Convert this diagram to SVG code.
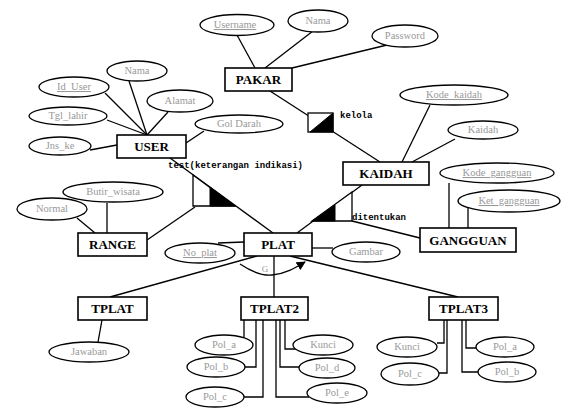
<svg xmlns="http://www.w3.org/2000/svg" width="561" height="409" viewBox="0 0 561 409">
  <style>
    .ent rect { fill: #fff; stroke: #000; stroke-width: 1.6; }
    .ent text { font-family: "Liberation Serif", serif; font-weight: bold; font-size: 13px; fill: #000; text-anchor: middle; }
    .att ellipse { fill: #fff; stroke: #000; stroke-width: 1.3; }
    .att text { font-family: "Liberation Serif", serif; font-size: 10.5px; fill: #999; text-anchor: middle; }
    .key text { text-decoration: underline; }
    .rel text { font-family: "Liberation Mono", monospace; font-weight: bold; font-size: 9px; fill: #000; }
    .conn line, .conn polyline, .conn path { fill: none; stroke: #000; stroke-width: 1.3; }
    .wht { fill: #fff; stroke: #000; stroke-width: 1.3; }
    .blk { fill: #000; stroke: #000; stroke-width: 1; }
  </style>
  <defs>
    <marker id="arrow" viewBox="0 0 10 10" refX="9" refY="5" markerWidth="7" markerHeight="7" orient="auto">
      <path d="M0,0 L10,5 L0,10 z" fill="#000"/>
    </marker>
  </defs>
  <rect width="561" height="409" fill="#fff"/>

  <g id="connectors" class="conn">
    <!-- USER attributes -->
    <line x1="105" y1="93" x2="147" y2="135"/>
    <line x1="129" y1="81" x2="147" y2="135"/>
    <line x1="107" y1="120" x2="147" y2="135"/>
    <line x1="168" y1="112" x2="147" y2="135"/>
    <line x1="90" y1="150" x2="117" y2="145"/>
    <line x1="186" y1="143" x2="204" y2="131"/>
    <!-- PAKAR attributes -->
    <line x1="237" y1="35" x2="255" y2="68"/>
    <line x1="313" y1="31" x2="265" y2="68"/>
    <line x1="387" y1="45" x2="292" y2="68"/>
    <!-- PAKAR - KAIDAH -->
    <line x1="270" y1="91" x2="380" y2="162"/>
    <!-- KAIDAH attributes -->
    <line x1="430" y1="105" x2="402" y2="162"/>
    <line x1="455" y1="139" x2="412" y2="162"/>
    <!-- GANGGUAN attributes -->
    <line x1="449" y1="183" x2="449" y2="228"/>
    <line x1="468" y1="207" x2="468" y2="228"/>
    <!-- ditentukan -->
    <line x1="362" y1="185" x2="297" y2="233"/>
    <line x1="352" y1="221" x2="420" y2="238"/>
    <!-- USER - PLAT, RANGE -->
    <line x1="170" y1="158" x2="273" y2="233"/>
    <line x1="147" y1="240" x2="195" y2="207"/>
    <!-- RANGE attributes -->
    <line x1="107" y1="203" x2="107" y2="233"/>
    <line x1="77" y1="218" x2="95" y2="233"/>
    <!-- PLAT attributes -->
    <line x1="218" y1="243" x2="244" y2="242"/>
    <line x1="312" y1="248" x2="333" y2="248"/>
    <!-- PLAT specialisations -->
    <line x1="257" y1="256" x2="110" y2="297"/>
    <line x1="274" y1="256" x2="274" y2="297"/>
    <line x1="290" y1="256" x2="458" y2="297"/>
    <path d="M240,264 C252,272 262,276 272,275 C285,274 295,268 305,262" marker-end="url(#arrow)"/>
    <!-- TPLAT attribute -->
    <line x1="102" y1="320" x2="98" y2="342"/>
    <!-- TPLAT2 attributes -->
    <polyline points="244,320 244,337"/>
    <polyline points="256,320 256,367 245,367"/>
    <polyline points="263,320 263,397 244,397"/>
    <polyline points="276,320 276,397 309,397"/>
    <polyline points="280,320 280,367 299,367"/>
    <polyline points="285,320 285,349 297,349"/>
    <!-- TPLAT3 attributes -->
    <polyline points="444,320 444,343 437,343"/>
    <polyline points="447,320 447,373 439,373"/>
    <polyline points="462,320 462,372 478,372"/>
    <polyline points="466,320 466,348 476,348"/>
  </g>

  <!-- relationship: kelola -->
  <g id="rel-kelola" class="rel">
    <rect class="wht" x="308" y="113" width="25" height="19"/>
    <polygon class="blk" points="333,113 333,132 310,132"/>
    <text x="340" y="118">kelola</text>
  </g>

  <!-- relationship: test(keterangan indikasi) -->
  <g id="rel-test" class="rel">
    <polygon class="wht" points="193,175 193,206 235,206"/>
    <polygon class="blk" points="210,187 210,206 235,206"/>
    <text x="168" y="168">test(keterangan indikasi)</text>
  </g>

  <!-- relationship: ditentukan -->
  <g id="rel-ditentukan" class="rel">
    <polygon class="wht" points="312,221 352,192 352,221"/>
    <polygon class="blk" points="312,221 335,205 335,221"/>
    <text x="352" y="220">ditentukan</text>
  </g>

  <!-- entities -->
  <g id="PAKAR" class="ent"><rect x="225" y="68" width="67" height="23"/><text x="258.5" y="84">PAKAR</text></g>
  <g id="USER" class="ent"><rect x="117" y="135" width="69" height="23"/><text x="151.5" y="151">USER</text></g>
  <g id="KAIDAH" class="ent"><rect x="343" y="162" width="86" height="23"/><text x="386" y="178">KAIDAH</text></g>
  <g id="GANGGUAN" class="ent"><rect x="420" y="228" width="96" height="24"/><text x="468" y="245">GANGGUAN</text></g>
  <g id="RANGE" class="ent"><rect x="78" y="233" width="69" height="23"/><text x="112.5" y="249">RANGE</text></g>
  <g id="PLAT" class="ent"><rect x="244" y="233" width="68" height="23"/><text x="278" y="249">PLAT</text></g>
  <g id="TPLAT" class="ent"><rect x="78" y="297" width="69" height="23"/><text x="112.5" y="313">TPLAT</text></g>
  <g id="TPLAT2" class="ent"><rect x="241" y="297" width="67" height="23"/><text x="274.5" y="313">TPLAT2</text></g>
  <g id="TPLAT3" class="ent"><rect x="429" y="297" width="69" height="23"/><text x="463.5" y="313">TPLAT3</text></g>

  <!-- PAKAR attributes -->
  <g id="pakar-username" class="att key"><ellipse cx="237" cy="25" rx="37" ry="10.5"/><text x="235" y="28">Username</text></g>
  <g id="pakar-nama" class="att"><ellipse cx="318" cy="21" rx="30" ry="11"/><text x="318" y="24">Nama</text></g>
  <g id="pakar-password" class="att"><ellipse cx="405" cy="36" rx="33" ry="11"/><text x="405" y="39">Password</text></g>

  <!-- USER attributes -->
  <g id="user-id" class="att key"><ellipse cx="74" cy="87" rx="35" ry="10"/><text x="74" y="90">Id_User</text></g>
  <g id="user-nama" class="att"><ellipse cx="137" cy="71" rx="30" ry="10"/><text x="137" y="74">Nama</text></g>
  <g id="user-alamat" class="att"><ellipse cx="180" cy="101" rx="33" ry="11"/><text x="180" y="104">Alamat</text></g>
  <g id="user-tgl" class="att"><ellipse cx="68" cy="116" rx="39" ry="9"/><text x="68" y="119">Tgl_lahir</text></g>
  <g id="user-jns" class="att"><ellipse cx="60" cy="146" rx="31" ry="9"/><text x="60" y="149">Jns_ke</text></g>
  <g id="user-gol" class="att"><ellipse cx="239" cy="124" rx="44" ry="9"/><text x="239" y="127">Gol Darah</text></g>

  <!-- KAIDAH attributes -->
  <g id="kaidah-kode" class="att key"><ellipse cx="454" cy="95" rx="54" ry="10"/><text x="454" y="98">Kode_kaidah</text></g>
  <g id="kaidah-kaidah" class="att"><ellipse cx="483" cy="130" rx="35" ry="9"/><text x="483" y="133">Kaidah</text></g>

  <!-- GANGGUAN attributes -->
  <g id="gangguan-kode" class="att key"><ellipse cx="497" cy="173" rx="57" ry="10"/><text x="497" y="176">Kode_gangguan</text></g>
  <g id="gangguan-ket" class="att key"><ellipse cx="509" cy="201" rx="51" ry="11"/><text x="509" y="204">Ket_gangguan</text></g>

  <!-- RANGE attributes -->
  <g id="range-butir" class="att"><ellipse cx="113" cy="192" rx="50" ry="10"/><text x="113" y="195">Butir_wisata</text></g>
  <g id="range-normal" class="att"><ellipse cx="52" cy="209" rx="35" ry="11"/><text x="52" y="212">Normal</text></g>

  <!-- PLAT attributes -->
  <g id="plat-no" class="att key"><ellipse cx="200" cy="253" rx="35" ry="10"/><text x="200" y="256">No_plat</text></g>
  <g id="plat-gambar" class="att"><ellipse cx="366" cy="252" rx="34" ry="10"/><text x="366" y="255">Gambar</text></g>
  <text x="265" y="272" font-family="Liberation Serif, serif" font-size="9" fill="#999" text-anchor="middle">G</text>

  <!-- TPLAT attribute -->
  <g id="tplat-jawaban" class="att"><ellipse cx="89" cy="352" rx="40" ry="10"/><text x="89" y="355">Jawaban</text></g>

  <!-- TPLAT2 attributes -->
  <g id="tplat2-pola" class="att"><ellipse cx="224" cy="345" rx="29" ry="10"/><text x="224" y="348">Pol_a</text></g>
  <g id="tplat2-polb" class="att"><ellipse cx="216" cy="367" rx="29" ry="10"/><text x="216" y="370">Pol_b</text></g>
  <g id="tplat2-polc" class="att"><ellipse cx="215" cy="397" rx="29" ry="10"/><text x="215" y="400">Pol_c</text></g>
  <g id="tplat2-kunci" class="att"><ellipse cx="323" cy="345" rx="30" ry="10"/><text x="323" y="348">Kunci</text></g>
  <g id="tplat2-pold" class="att"><ellipse cx="327" cy="368" rx="28" ry="10"/><text x="327" y="371">Pol_d</text></g>
  <g id="tplat2-pole" class="att"><ellipse cx="337" cy="393" rx="30" ry="10"/><text x="337" y="396">Pol_e</text></g>

  <!-- TPLAT3 attributes -->
  <g id="tplat3-kunci" class="att"><ellipse cx="407" cy="347" rx="30" ry="10"/><text x="407" y="350">Kunci</text></g>
  <g id="tplat3-polc" class="att"><ellipse cx="410" cy="374" rx="29" ry="11"/><text x="410" y="377">Pol_c</text></g>
  <g id="tplat3-pola" class="att"><ellipse cx="505" cy="347" rx="29" ry="10"/><text x="505" y="350">Pol_a</text></g>
  <g id="tplat3-polb" class="att"><ellipse cx="507" cy="372" rx="29" ry="10"/><text x="507" y="375">Pol_b</text></g>
</svg>
